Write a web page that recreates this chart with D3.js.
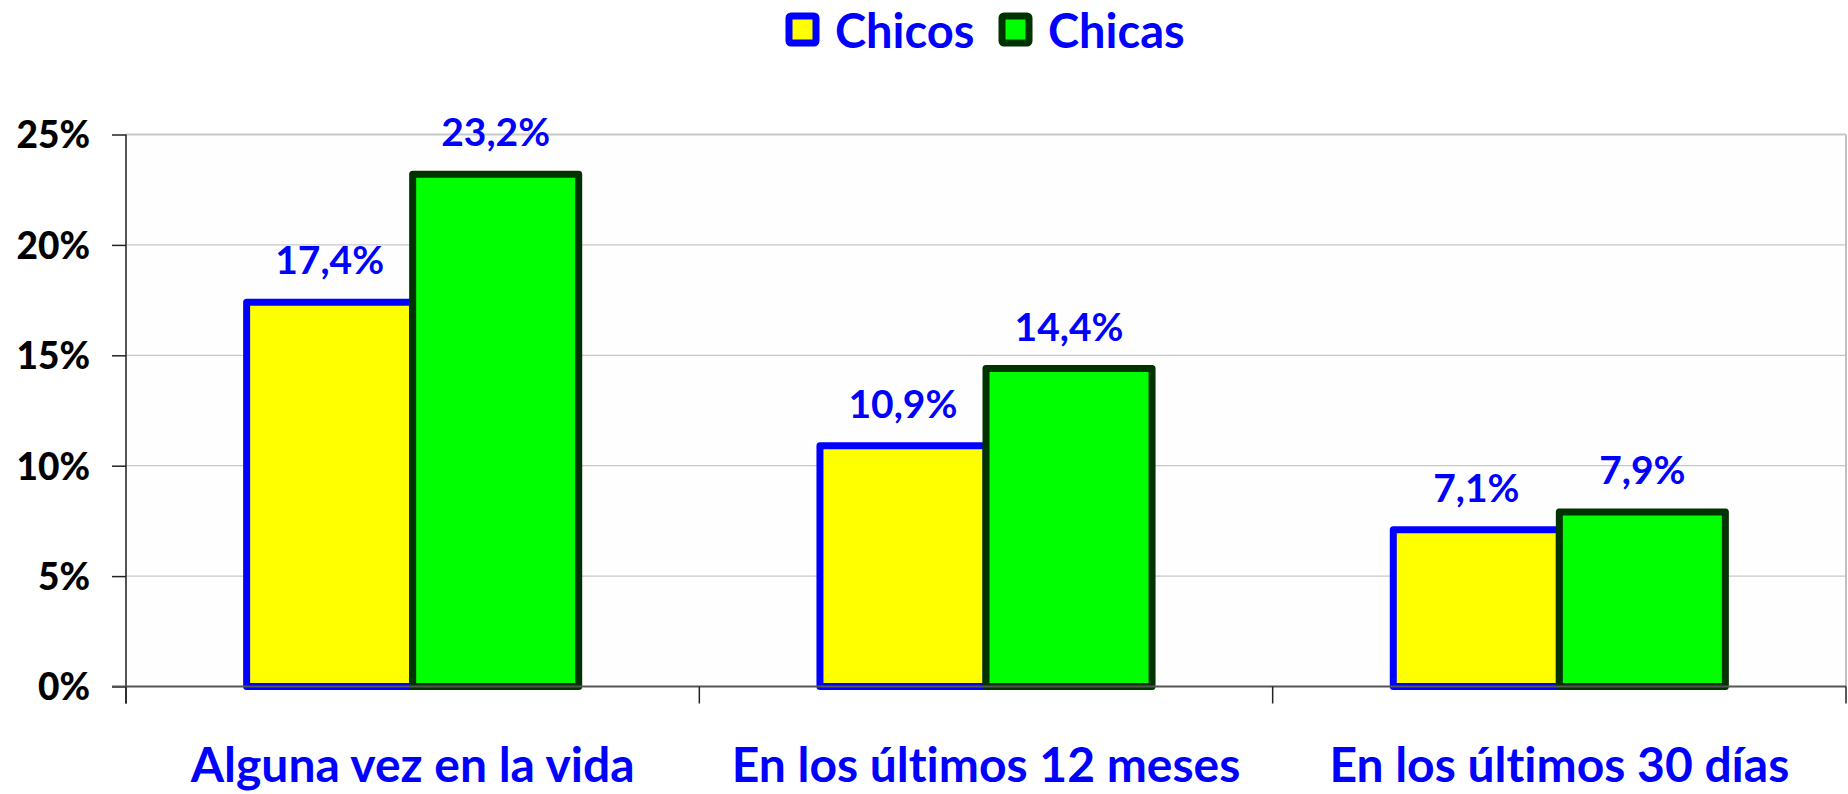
<!DOCTYPE html>
<html>
<head>
<meta charset="utf-8">
<script src="https://cdn.jsdelivr.net/npm/d3@7"></script>
<style>
  html, body { margin: 0; padding: 0; background: #ffffff; }
  svg { display: block; }
  text { font-variant-ligatures: none; font-feature-settings: "liga" 0, "clig" 0; }
</style>
</head>
<body>
<svg id="chart" width="1848" height="794"></svg>
<script>
const categories = ["Alguna vez en la vida", "En los últimos 12 meses", "En los últimos 30 días"];
const seriesNames = ["Chicos", "Chicas"];
const chicos = [17.4, 10.9, 7.1];
const chicas = [23.2, 14.4, 7.9];
const yTicks = [0, 5, 10, 15, 20, 25];

(function () {
const fills = ["#FFFF00", "#00FF00"];
const strokes = ["#0000FF", "#003300"];
const FONT = "Lato, 'Open Sans', sans-serif";

const svg = d3.select("#chart");
const pL = 126, pR = 1846, pT = 134.5, pB = 686.5;

const x = d3.scaleBand().domain(categories).range([pL, pR]).paddingInner(0).paddingOuter(0);
const x1 = d3.scaleBand().domain(seriesNames).range([0, x.bandwidth()]).paddingInner(0).paddingOuter(0.7265);
const y = d3.scaleLinear().domain([0, 25]).range([pB, pT]);

svg.append("rect").attr("x", pL).attr("y", pT).attr("width", pR - pL).attr("height", pB - pT)
  .attr("fill", "#fefefe");

svg.append("g").selectAll("line").data(yTicks.filter(d => d > 0)).join("line")
  .attr("x1", pL).attr("x2", pR)
  .attr("y1", d => y(d)).attr("y2", d => y(d))
  .attr("stroke", "#c8c8c8").attr("stroke-width", d => d === 25 ? 2 : 1.2);

svg.append("line").attr("x1", pR).attr("x2", pR).attr("y1", pT).attr("y2", pB)
  .attr("stroke", "#c0c0c0").attr("stroke-width", 2);

const data = categories.map((c, i) => ({ cat: c, vals: [chicos[i], chicas[i]] }));
const groups = svg.append("g").selectAll("g").data(data).join("g")
  .attr("transform", d => `translate(${x(d.cat)},0)`);

groups.selectAll("rect").data(d => d.vals.map((v, j) => ({ name: seriesNames[j], v, j }))).join("rect")
  .attr("x", d => x1(d.name))
  .attr("width", x1.bandwidth())
  .attr("y", d => y(d.v))
  .attr("height", d => y(0) - y(d.v))
  .attr("fill", d => fills[d.j])
  .attr("stroke", d => strokes[d.j])
  .attr("stroke-width", 7)
  .attr("stroke-linejoin", "round");

groups.selectAll("text").data(d => d.vals.map((v, j) => ({ name: seriesNames[j], v, j }))).join("text")
  .attr("x", d => x1(d.name) + x1.bandwidth() / 2)
  .attr("y", d => y(d.v) - 28)
  .attr("text-anchor", "middle")
  .attr("font-family", FONT).attr("font-weight", "bold").attr("font-size", 39)
  .attr("fill", "#0000FF")
  .text(d => d.v.toFixed(1).replace(".", ",") + "%");

const yAxis = svg.append("g").attr("transform", `translate(${pL},0)`)
  .call(d3.axisLeft(y).tickValues(yTicks).tickSize(14).tickPadding(22).tickFormat(d => d + "%"));
yAxis.select(".domain").attr("stroke", "#555").attr("stroke-width", 2).attr("d", `M0,${pT}V${pB + 17}`);
yAxis.selectAll(".tick line").attr("stroke", "#222").attr("stroke-width", 1.5);
yAxis.selectAll(".tick text")
  .attr("font-family", FONT).attr("font-weight", 900).attr("font-size", 37)
  .attr("fill", "#000").attr("dy", "0.36em");

const xAxis = svg.append("g").attr("transform", `translate(0,${pB})`)
  .call(d3.axisBottom(x).tickSize(0).tickPadding(95));
xAxis.select(".domain").attr("stroke", "#555").attr("stroke-width", 2).attr("d", `M${pL - 14},0H${pR}`);
xAxis.selectAll(".tick text")
  .attr("font-family", FONT).attr("font-weight", "bold").attr("font-size", 48)
  .attr("fill", "#0000FF").attr("dy", "0");
svg.append("g").selectAll("line").data(categories.map(c => x(c)).concat([pR])).join("line")
  .attr("x1", d => d).attr("x2", d => d).attr("y1", pB).attr("y2", pB + 17)
  .attr("stroke", "#222").attr("stroke-width", 1.5);

const legend = svg.append("g");
const legendX = [789, 1002];
seriesNames.forEach((s, j) => {
  legend.append("rect").attr("x", legendX[j]).attr("y", 16).attr("width", 27).attr("height", 27)
    .attr("rx", 2).attr("fill", fills[j]).attr("stroke", strokes[j]).attr("stroke-width", 7)
    .attr("stroke-linejoin", "round");
  legend.append("text").attr("x", legendX[j] + 46).attr("y", 48)
    .attr("font-family", FONT).attr("font-weight", "bold").attr("font-size", 47)
    .attr("fill", "#0000FF").text(s);
});
})();
</script>
</body>
</html>
